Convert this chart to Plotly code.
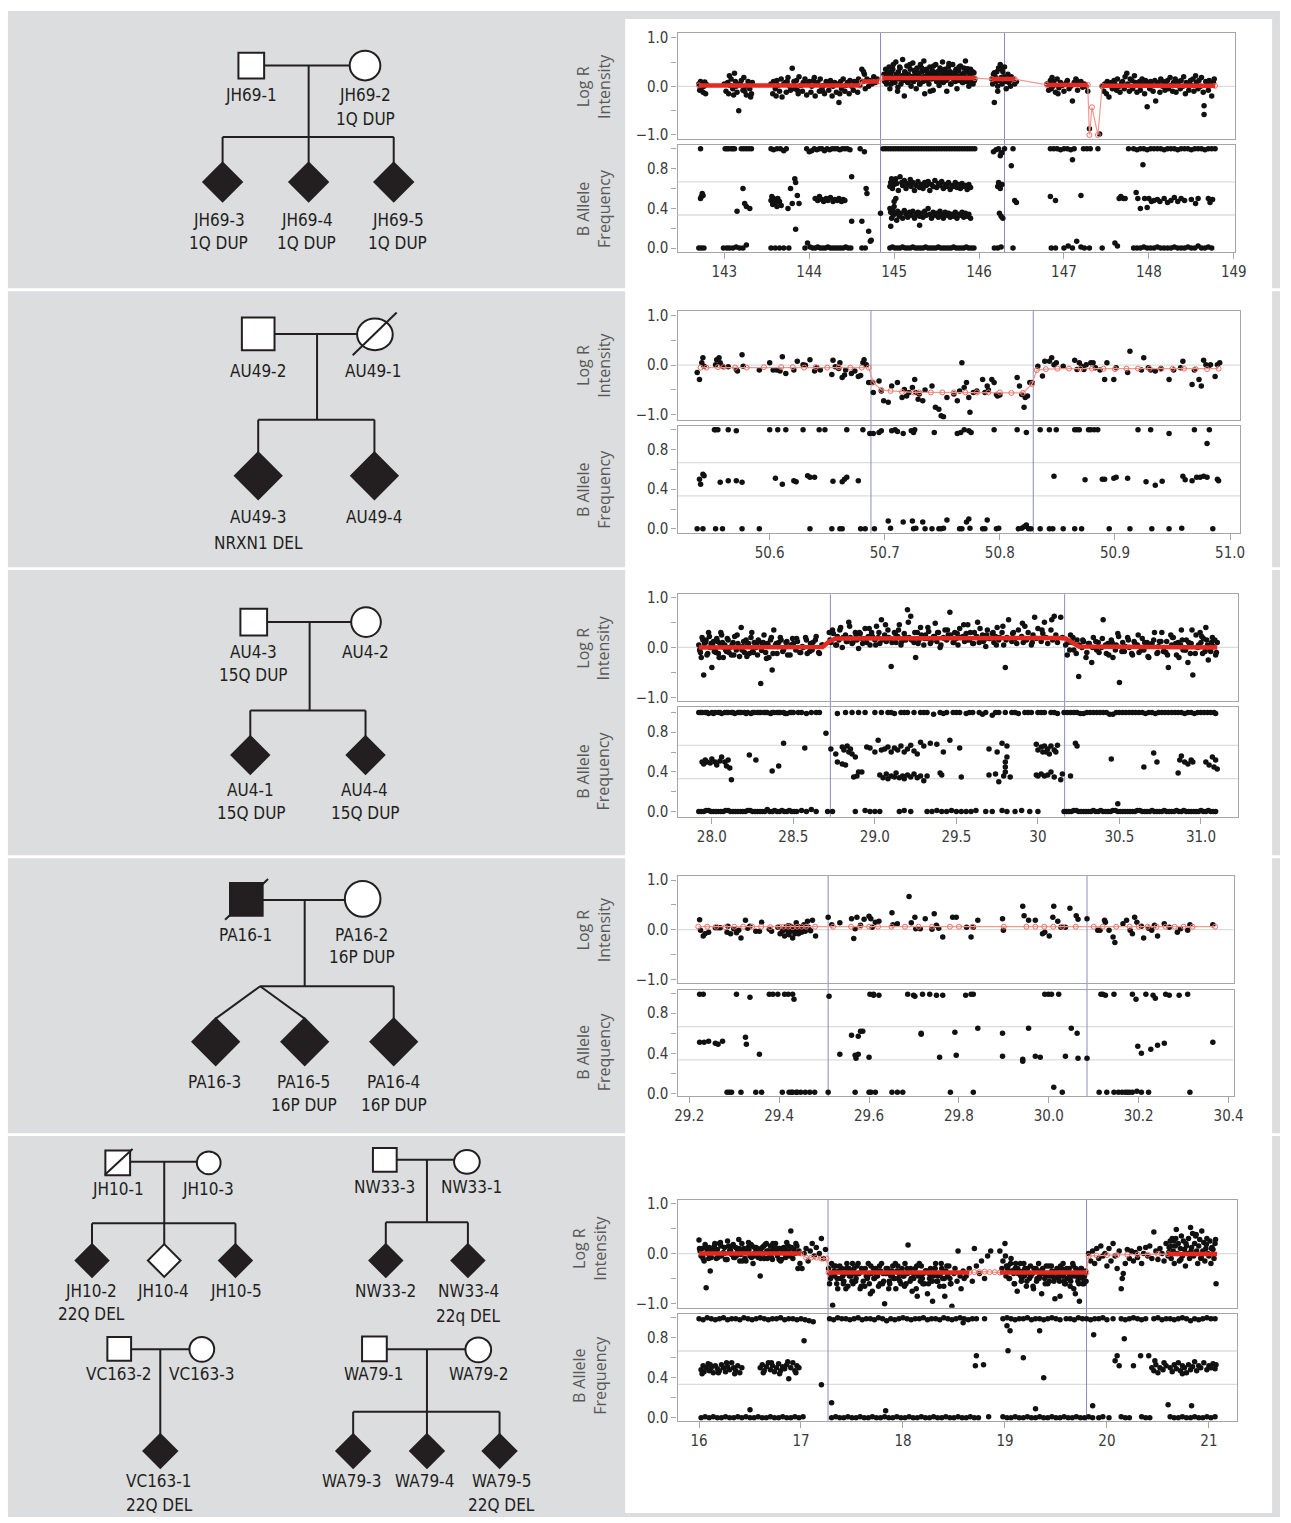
import plotly.graph_objects as go

W, H = 1291, 1523

# ======================= DATA =======================
# ---------- Panel 1 (chr1, Mb) ----------
p1_lrr_x = [
    142.70,142.71,142.72,142.73,142.74,142.75,142.76,142.77,142.78,142.79,142.72,142.76,
    143.00,143.02,143.04,143.05,143.07,143.08,143.10,143.12,143.13,143.15,143.17,143.18,143.20,143.22,
    143.23,143.25,143.26,143.28,143.30,143.31,143.33,143.06,143.11,143.19,143.24,143.29,143.32,143.14,
    143.55,143.57,143.58,143.60,143.62,143.63,143.65,143.67,143.68,143.70,
    143.72,143.73,143.75,143.77,143.78,143.80,143.82,143.83,143.85,143.87,
    143.88,143.90,143.92,143.93,143.95,143.97,143.98,144.00,144.02,144.03,
    144.05,144.07,144.08,144.10,144.12,144.13,144.15,144.17,144.18,144.20,
    144.22,144.23,144.25,144.27,144.28,144.30,144.32,144.33,144.35,144.37,
    144.38,144.40,144.42,144.43,144.45,144.47,144.48,144.50,144.52,144.53,
    144.55,144.57,144.58,144.60,143.61,143.74,143.86,143.96,144.06,144.16,
    144.26,144.36,144.46,144.56,
    144.62,144.63,144.65,144.66,144.68,144.70,144.72,144.74,144.76,144.78,144.80,144.64,
    144.88,144.89,144.90,144.91,144.92,144.93,144.94,144.95,144.96,144.97,
    144.98,144.99,145.00,145.01,145.02,145.03,145.04,145.05,145.06,145.07,
    145.08,145.09,145.10,145.11,145.12,145.13,145.14,145.15,145.16,145.17,
    145.18,145.19,145.20,145.21,145.22,145.23,145.24,145.25,145.26,145.27,
    145.28,145.29,145.30,145.31,145.32,145.33,145.34,145.35,145.36,145.37,
    145.38,145.39,145.40,145.41,145.42,145.43,145.44,145.45,145.46,145.47,
    145.48,145.49,145.50,145.51,145.52,145.53,145.54,145.55,145.56,145.57,
    145.58,145.59,145.60,145.61,145.62,145.63,145.64,145.65,145.66,145.67,
    145.68,145.69,145.70,145.71,145.72,145.73,145.74,145.75,145.76,145.77,
    145.78,145.79,145.80,145.81,145.82,145.83,145.84,145.85,145.86,145.87,
    145.88,145.89,145.90,145.91,145.92,145.93,145.94,145.95,
    144.905,144.925,144.945,144.965,144.985,145.005,145.025,145.045,145.065,145.085,
    145.105,145.125,145.145,145.165,145.185,145.205,145.225,145.245,145.265,145.285,
    145.305,145.325,145.345,145.365,145.385,145.405,145.425,145.445,145.465,145.485,
    145.505,145.525,145.545,145.565,145.585,145.605,145.625,145.645,145.665,145.685,
    145.705,145.725,145.745,145.765,145.785,145.805,145.825,145.845,145.865,145.885,
    145.905,145.925,145.945,
    146.15,146.16,146.17,146.18,146.19,146.20,146.21,146.22,146.23,146.24,
    146.25,146.26,146.27,146.28,146.29,146.30,146.31,146.32,146.33,146.34,
    146.35,146.36,146.37,146.38,146.40,146.42,146.44,146.18,146.22,146.26,
    146.80,146.82,146.84,146.85,146.87,146.88,146.90,146.92,146.94,146.96,
    146.98,147.00,147.02,147.04,147.06,147.08,147.10,147.12,147.14,147.16,
    147.18,147.20,147.22,147.24,147.26,147.28,146.86,146.93,147.03,147.15,
    147.30,147.42,
    147.45,147.47,147.48,147.50,147.51,147.53,147.54,147.56,147.57,147.59,
    147.60,147.62,147.63,147.65,147.66,147.68,147.69,147.71,147.72,147.74,
    147.75,147.77,147.78,147.80,147.81,147.83,147.84,147.86,147.87,147.89,
    147.90,147.92,147.93,147.95,147.96,147.98,147.99,148.01,148.02,148.04,
    148.05,148.07,148.08,148.10,148.11,148.13,148.14,148.16,148.17,148.19,
    148.20,148.22,148.23,148.25,148.26,148.28,148.29,148.31,148.32,148.34,
    148.35,148.37,148.38,148.40,148.41,148.43,148.44,148.46,148.47,148.49,
    148.50,148.52,148.53,148.55,148.56,148.58,148.59,148.61,148.62,148.64,
    148.65,148.67,148.68,148.70,148.71,148.73,148.74,148.76,148.77,148.65,
]
p1_lrr_y = [
    .05,-.08,.1,-.03,.07,-.12,.02,.09,-.15,.04,-.05,0,
    .05,-.1,.08,-.15,.02,.15,-.05,.27,.1,-.12,-.5,.05,.12,-.08,
    .18,0,-.18,.1,-.05,-.22,.08,.22,-.18,.03,-.1,.06,-.15,0,
    .05,-.15,.1,-.05,.12,.02,-.1,.15,-.22,.05,
    .08,-.12,.18,0,-.08,.37,.1,-.05,.12,-.15,
    .2,.02,-.1,.08,.15,-.18,.05,.1,-.12,0,
    .12,-.2,.05,.08,-.1,.15,-.05,.02,-.15,.1,
    .05,-.08,.12,-.2,0,.08,-.12,.05,-.33,.1,
    -.05,.15,-.1,.02,.08,-.15,.12,0,-.08,.1,
    .05,-.12,.15,.02,-.2,.1,-.08,.05,.18,-.1,
    .03,-.15,.08,.1,
    .35,.1,.25,-.05,.15,0,.12,.05,.2,.08,.15,.3,
    .25,.1,.35,.05,.2,.15,.4,-.05,.22,.3,
    .12,.45,.18,.08,.5,.25,-.1,.3,.15,.38,
    .05,.22,.55,.12,-.2,.28,.18,.42,.08,.25,
    .15,.35,0,.2,.48,.1,.3,.22,-.05,.38,
    .15,.25,.05,.45,.18,.3,.1,.52,-.15,.2,
    .35,.12,.28,.05,.4,.22,.15,.32,-.08,.25,
    .18,.45,.1,.3,.2,.02,.38,.15,.28,.5,
    .08,.22,.35,.12,-.1,.25,.4,.18,.3,.05,
    .2,.45,.15,.28,.1,.35,-.05,.22,.32,.12,
    .42,.18,.25,.08,.38,.2,.52,.1,.3,.15,
    0,.25,.35,.12,.2,.05,.28,.15,
    .1,.3,.2,.05,.35,.15,.25,-.02,.4,.18,
    .12,.3,.22,.08,.45,.2,.1,.33,.15,.28,
    .05,.38,.2,.12,.3,.18,-.1,.25,.42,.15,
    .22,.08,.35,.2,.1,.3,.15,.47,.05,.25,
    .18,.32,.12,.4,.2,.08,.28,.15,.36,.1,
    .22,.3,.12,
    .15,.05,.25,-.33,.2,.1,.3,0,.38,.12,
    .45,.18,.05,.3,.2,.4,.1,-.05,.15,.25,
    .08,.12,0,.2,.15,.05,.1,.28,-.1,.35,
    .05,-.08,.12,-.05,0,.1,-.12,.15,-.03,.08,
    .02,-.1,.05,.12,-.05,0,-.3,.08,.15,-.08,
    .05,.1,-.02,.05,0,-.1,.18,-.15,.08,.12,
    -.87,-.98,
    0,-.1,.05,-.15,.1,-.22,.02,.08,-.05,.12,
    .05,-.08,.15,0,-.12,.08,.1,-.05,.2,.27,
    .05,-.1,.15,.12,-.05,.22,.08,-.12,.02,.1,
    -.08,.15,.05,-.15,.12,-.42,.08,-.05,.1,.02,
    -.1,.12,-.3,.05,.08,-.12,.15,0,.1,-.08,
    .05,.12,-.05,.18,.02,-.1,.08,.15,-.12,.05,
    .1,-.05,.12,0,.2,-.15,.08,.05,-.08,.12,
    .02,.15,-.1,.22,.08,-.05,.12,0,.18,-.12,
    -.58,.1,.05,-.08,.12,.02,-.2,.08,.15,-.4,
]
p1_baf_top_x = [
    142.72,143.01,143.03,143.05,143.08,143.1,143.12,143.2,143.23,143.26,
    143.29,143.32,143.55,143.58,143.62,143.66,143.7,143.73,143.97,144.0,
    144.03,144.06,144.09,144.12,144.15,144.18,144.21,144.24,144.27,144.3,
    144.33,144.36,144.39,144.42,144.45,144.48,144.6,144.65,144.87,144.9,
    144.93,144.96,144.99,145.02,145.05,145.08,145.11,145.14,145.17,145.2,
    145.23,145.26,145.29,145.32,145.35,145.38,145.41,145.44,145.47,145.5,
    145.53,145.56,145.59,145.62,145.65,145.68,145.71,145.74,145.77,145.8,
    145.83,145.86,145.89,145.92,145.95,146.17,146.2,146.23,146.26,146.3,
    146.4,146.84,146.88,146.92,146.96,147.0,147.04,147.08,147.12,147.23,
    147.27,147.31,147.4,147.76,147.82,147.86,147.9,147.94,147.98,148.02,
    148.06,148.1,148.14,148.18,148.22,148.26,148.3,148.34,148.38,148.42,
    148.46,148.5,148.54,148.58,148.62,148.66,148.7,148.74,148.78,
]
p1_baf_top_y = [
    1,1,1,1,1,1,1,1,1,1,
    1,1,1,.99,1,1,.98,1,1,.97,
    .98,1,.99,1,1,.98,1,.99,1,1,
    1,.99,1,1,1,.99,1,.97,1,1,
    1,1,1,1,1,1,1,1,1,1,
    1,1,1,1,1,1,1,1,1,1,
    1,1,1,1,1,1,1,1,1,1,
    1,1,1,1,1,.97,.99,1,.96,1,
    1,1,1,1,.99,1,1,.99,1,1,
    1,1,1,1,1,.99,1,1,.99,1,
    1,1,1,.99,1,1,1,.99,1,1,
    1,.99,1,1,1,.99,1,1,1,
]
p1_baf_bot_x = [
    142.7,142.73,142.76,142.99,143.03,143.06,143.1,143.14,143.18,143.22,
    143.26,143.55,143.6,143.65,143.7,143.76,143.95,143.98,144.01,144.04,
    144.07,144.1,144.13,144.16,144.19,144.22,144.25,144.28,144.31,144.34,
    144.37,144.4,144.43,144.46,144.49,144.62,144.66,144.95,144.98,145.01,
    145.04,145.07,145.1,145.13,145.16,145.19,145.22,145.25,145.28,145.31,
    145.34,145.37,145.4,145.43,145.46,145.49,145.52,145.55,145.58,145.61,
    145.64,145.67,145.7,145.73,145.76,145.79,145.82,145.85,145.88,145.91,
    145.94,146.18,146.22,146.26,146.4,146.85,146.9,147.0,147.05,147.1,
    147.2,147.24,147.3,147.45,147.6,147.63,147.82,147.86,147.9,147.94,
    147.98,148.02,148.06,148.1,148.14,148.18,148.22,148.26,148.3,148.34,
    148.38,148.42,148.46,148.5,148.54,148.58,148.62,148.66,148.7,148.74,
]
p1_baf_bot_y = [
    0,0,0,0,0,0,0,.01,0,0,
    .03,0,0,0,0,0,0,.05,.01,0,
    0,.01,0,0,0,.01,0,0,0,0,
    0,0,.01,0,0,0,0,0,.01,0,
    0,0,.01,0,0,0,.01,0,0,0,
    0,.01,0,0,0,0,.01,0,0,0,
    0,0,.01,0,0,0,0,.01,0,0,
    0,0,0,.01,0,0,0,0,.02,0,
    .01,0,0,0,.05,.02,0,0,0,.01,
    0,0,0,.01,0,0,0,0,.01,0,
    0,0,.01,0,0,.02,0,0,.01,0,
]
p1_baf_mid = [
    (142.72,.5),(142.73,.52),(142.74,.55),(142.75,.53),(143.15,.37),(143.22,.6),(143.24,.45),(143.26,.42),(143.3,.4),
    (143.55,.48),(143.56,.52),(143.57,.44),(143.58,.5),(143.6,.46),(143.62,.42),(143.63,.5),(143.65,.47),(143.67,.43),
    (143.75,.4),(143.78,.6),(143.8,.45),(143.83,.7),(143.84,.66),(143.86,.53),(143.88,.45),(143.84,.19),
    (144.07,.5),(144.1,.48),(144.12,.52),(144.15,.49),(144.17,.47),(144.2,.5),(144.22,.48),(144.25,.51),(144.28,.47),
    (144.3,.49),(144.33,.48),(144.35,.5),(144.38,.47),(144.4,.49),(144.42,.48),(144.5,.72),(144.5,.27),(144.62,.27),
    (144.67,.6),(144.68,.55),(144.7,.17),(144.72,.07),(144.73,.08),(144.84,.35),
    (144.95,.62),(144.96,.66),(144.97,.7),(144.98,.6),(144.99,.68),(145.0,.64),(145.02,.7),(145.03,.65),(145.05,.58),
    (145.07,.72),(145.09,.66),(145.1,.63),(145.12,.68),(145.14,.6),(145.15,.65),(145.17,.64),(145.19,.69),(145.2,.62),
    (145.22,.66),(145.24,.58),(145.26,.63),(145.28,.67),(145.3,.61),(145.32,.64),(145.34,.6),(145.36,.66),(145.38,.63),
    (145.4,.67),(145.42,.58),(145.44,.64),(145.46,.62),(145.48,.68),(145.5,.61),(145.52,.65),(145.54,.63),(145.56,.67),
    (145.58,.6),(145.6,.64),(145.62,.62),(145.64,.66),(145.66,.59),(145.68,.63),(145.7,.62),(145.72,.66),(145.74,.61),
    (145.76,.64),(145.78,.6),(145.8,.65),(145.82,.62),(145.84,.63),(145.86,.59),(145.88,.64),(145.9,.61),
    (144.95,.4),(144.96,.36),(144.97,.3),(144.98,.38),(144.99,.33),(145.0,.42),(145.02,.35),(145.03,.28),(145.04,.37),
    (145.06,.32),(145.08,.35),(145.1,.3),(145.12,.38),(145.14,.34),(145.16,.31),(145.18,.36),(145.2,.33),(145.22,.37),
    (145.24,.3),(145.26,.34),(145.28,.36),(145.3,.32),(145.32,.35),(145.34,.31),(145.36,.37),(145.38,.33),(145.4,.4),
    (145.42,.34),(145.44,.3),(145.46,.36),(145.48,.33),(145.5,.35),(145.52,.31),(145.54,.37),(145.56,.34),(145.58,.3),
    (145.6,.36),(145.62,.33),(145.64,.35),(145.66,.31),(145.68,.34),(145.7,.32),(145.72,.36),(145.74,.3),(145.76,.34),
    (145.78,.33),(145.8,.36),(145.82,.31),(145.84,.35),(145.86,.32),(145.88,.34),(145.9,.3),
    (144.96,.22),(145.02,.5),(145.0,.47),(145.3,.23),
    (146.22,.62),(146.23,.66),(146.25,.6),(146.27,.64),(146.24,.35),(146.26,.32),(146.28,.3),(146.25,.93),(146.27,.96),
    (146.38,.83),(146.42,.48),(146.44,.46),
    (146.84,.52),(146.9,.48),(147.1,.89),(147.2,.53),(147.15,.07),(147.65,.5),(147.67,.52),(147.7,.5),(147.72,.5),
    (147.85,.56),(147.87,.5),(147.9,.4),(147.93,.84),(147.95,.5),(147.98,.41),(148.0,.5),(148.03,.47),(148.06,.48),
    (148.1,.49),(148.13,.47),(148.18,.5),(148.22,.46),(148.26,.48),(148.3,.51),(148.34,.47),(148.38,.5),(148.42,.48),
    (148.5,.49),(148.55,.45),(148.58,.5),(148.7,.5),(148.72,.46),(148.75,.49),
]
p1_seg_thick_x = [142.7,144.6,None,144.62,144.82,None,144.86,145.95,None,146.15,146.42,None,146.8,147.28,None,147.45,148.78]
p1_seg_thick_y = [0.02,0.02,None,0.1,0.1,None,0.17,0.17,None,0.15,0.15,None,0.03,0.03,None,0.01,0.01]
p1_seg_thin_x = [142.7,144.6,144.62,144.82,144.86,145.95,146.15,146.42,146.8,147.28,147.3,147.33,147.4,147.45,148.78]
p1_seg_thin_y = [0.02,0.02,0.1,0.1,0.17,0.17,0.15,0.15,0.03,0.03,-1.0,-0.43,-1.0,0.01,0.01]
p1_bounds = [144.84, 146.30]
p1_ticks = [143, 144, 145, 146, 147, 148, 149]
p1_ticktext = ['143', '144', '145', '146', '147', '148', '149']

# ---------- Panel 2 (chr2, NRXN1, Mb) ----------
p2_lrr = [
    (50.537,-.15),(50.539,-.29),(50.541,.05),(50.542,.15),(50.543,-.02),
    (50.553,.01),(50.554,.11),(50.556,.15),(50.557,.05),(50.559,-.02),
    (50.564,-.03),(50.571,-.09),(50.572,-.12),(50.576,.21),(50.577,-.02),
    (50.591,-.1),(50.6,.05),(50.603,-.1),(50.606,-.1),(50.609,-.12),(50.611,.17),(50.614,-.17),
    (50.621,-.1),(50.624,.08),(50.629,.01),(50.631,0),(50.635,.11),(50.639,-.12),(50.641,-.05),(50.644,-.1),
    (50.654,-.19),(50.655,.1),(50.657,-.03),(50.66,-.07),(50.661,.05),(50.663,-.25),(50.665,-.2),(50.666,-.1),
    (50.671,-.17),(50.674,-.12),(50.677,-.23),(50.679,-.21),(50.681,.05),(50.682,.11),(50.684,.01),
    (50.686,-.35),(50.689,-.35),(50.69,-.55),
    (50.695,-.32),(50.697,-.52),(50.699,-.72),(50.703,-.75),(50.706,-.42),(50.711,-.35),(50.715,-.65),(50.717,-.49),
    (50.719,-.62),(50.721,-.55),(50.724,-.45),(50.726,-.29),(50.727,-.55),(50.729,-.69),(50.733,-.72),(50.741,-.42),
    (50.744,-.85),(50.747,-.89),(50.749,-1.02),(50.751,-1.04),(50.754,-.65),(50.763,-.72),(50.765,-.52),(50.767,.05),
    (50.769,-.45),(50.771,-.35),(50.773,-.65),(50.774,-.95),(50.777,-.55),(50.785,-.29),(50.787,-.55),(50.789,-.42),
    (50.793,-.29),(50.795,-.35),(50.797,-.59),(50.798,-.62),(50.815,-.25),(50.817,-.42),(50.819,-.59),(50.821,-.85),
    (50.822,-.65),(50.824,-.62),(50.826,-.35),(50.828,-.35),
    (50.73,-.58),(50.735,-.5),(50.76,-.58),(50.78,-.52),(50.79,-.5),(50.8,-.6),
    (50.833,-.02),(50.837,-.22),(50.839,.08),(50.843,.08),(50.845,.15),(50.847,.01),(50.849,.05),(50.855,-.02),
    (50.865,.1),(50.867,-.09),(50.869,.05),(50.871,-.02),(50.873,-.09),(50.875,.01),(50.879,.05),(50.881,.05),
    (50.883,-.05),(50.887,-.1),(50.891,-.29),(50.893,.05),(50.899,-.29),(50.901,-.05),(50.911,-.15),(50.913,.28),
    (50.923,-.1),(50.925,.15),(50.929,-.05),(50.931,-.1),(50.935,-.12),(50.94,-.07),(50.947,-.29),(50.951,-.1),
    (50.957,-.05),(50.959,.08),(50.967,-.39),(50.969,-.1),(50.973,-.29),(50.975,-.42),(50.977,.1),(50.979,.01),
    (50.981,-.02),(50.983,.01),(50.987,-.23),(50.989,.01),(50.991,.05),
]
p2_baf = [
    (50.552,1),(50.553,1),(50.555,1),(50.564,1),(50.571,.99),(50.6,1),(50.607,1),(50.614,1),(50.629,1),(50.643,1),
    (50.648,1),(50.667,1),(50.681,1),(50.687,.96),(50.69,.96),(50.695,.97),(50.697,.99),(50.706,.99),(50.709,1),
    (50.711,.98),(50.716,.96),(50.723,.99),(50.725,.97),(50.726,1),(50.743,.97),(50.763,.96),(50.766,.97),(50.769,1),
    (50.773,.99),(50.775,.97),(50.795,1),(50.815,1),(50.823,.97),(50.835,1),(50.843,1),(50.849,1),(50.865,1),
    (50.867,1),(50.869,1),(50.877,1),(50.879,1),(50.882,1),(50.885,1),(50.92,1),(50.931,1),(50.947,.96),(50.969,1),
    (50.982,1),(50.98,.86),
    (50.539,.5),(50.54,.45),(50.542,.55),(50.543,.535),(50.557,.47),(50.564,.485),(50.571,.485),(50.576,.47),
    (50.605,.51),(50.611,.45),(50.621,.485),(50.623,.475),(50.633,.535),(50.635,.52),(50.639,.52),(50.655,.48),
    (50.663,.475),(50.665,.5),(50.667,.52),(50.677,.485),(50.847,.53),(50.874,.495),(50.889,.5),(50.891,.5),
    (50.899,.51),(50.901,.52),(50.911,.51),(50.927,.475),(50.935,.44),(50.941,.48),(50.959,.53),(50.961,.495),
    (50.967,.485),(50.971,.52),(50.974,.52),(50.977,.53),(50.98,.52),(50.989,.5),(50.99,.485),
    (50.537,0),(50.542,0),(50.553,0),(50.559,0),(50.576,0),(50.591,0),(50.635,0),(50.654,0),(50.661,0),(50.663,0),
    (50.679,0),(50.683,0),(50.691,0),(50.703,.08),(50.705,.005),(50.716,.07),(50.724,.08),(50.725,0),(50.727,.005),
    (50.733,.07),(50.735,0),(50.741,0),(50.747,0),(50.749,0),(50.751,.005),(50.754,.09),(50.765,0),(50.767,0),
    (50.771,.07),(50.773,.1),(50.774,.005),(50.785,0),(50.787,0),(50.789,.09),(50.797,0),(50.799,.005),(50.816,0),
    (50.819,.005),(50.821,.02),(50.823,.04),(50.825,0),(50.827,0),(50.835,0),(50.843,0),(50.846,0),(50.855,0),
    (50.865,0),(50.871,0),(50.895,0),(50.913,0),(50.932,0),(50.947,0),(50.958,.005),(50.985,0),
]
p2_seg_x = [50.54,50.545,50.555,50.56,50.57,50.58,50.595,50.61,50.62,50.63,
            50.64,50.65,50.66,50.67,50.68,50.686,50.69,50.697,50.705,50.715,
            50.725,50.73,50.74,50.75,50.76,50.77,50.78,50.79,50.8,50.81,
            50.82,50.828,50.832,50.84,50.85,50.86,50.87,50.88,50.89,50.9,
            50.91,50.92,50.93,50.94,50.95,50.96,50.97,50.98,50.99]
p2_seg_y = [-.05,-.05,-.04,-.04,-.05,-.05,-.04,-.04,-.04,-.05,
            -.04,-.05,-.04,-.05,-.05,-.05,-.35,-.5,-.52,-.54,
            -.55,-.55,-.55,-.55,-.55,-.55,-.55,-.55,-.55,-.56,
            -.56,-.38,-.1,-.08,-.07,-.07,-.07,-.07,-.07,-.08,
            -.07,-.07,-.07,-.08,-.07,-.07,-.08,-.08,-.07]
p2_bounds = [50.688, 50.829]
p2_ticks = [50.6, 50.7, 50.8, 50.9, 51.0]
p2_ticktext = ['50.6', '50.7', '50.8', '50.9', '51.0']

# ---------- Panel 3 (chr15, Mb) ----------
p3_lrr_x = [
    27.92,27.93,27.94,27.95,27.96,27.97,27.98,27.99,28.0,28.01,
    28.02,28.03,28.04,28.05,28.06,28.07,28.08,28.09,28.1,28.11,
    28.12,28.13,28.14,28.15,28.16,28.17,28.18,28.19,28.2,28.21,
    28.22,28.23,28.24,28.25,28.26,28.27,28.28,28.29,28.3,28.31,
    28.32,28.33,28.34,28.35,28.36,28.37,28.38,28.39,28.4,28.41,
    28.42,28.44,28.46,28.48,28.5,28.52,28.54,28.56,28.58,28.6,
    28.62,28.64,28.66,28.68,27.935,27.965,27.995,28.025,28.055,28.085,
    28.72,28.73,28.74,28.76,28.77,28.78,28.79,28.8,28.82,28.83,
    28.84,28.85,28.86,28.88,28.89,28.9,28.91,28.92,28.94,28.95,
    28.96,28.97,28.98,29.0,29.01,29.02,29.03,29.04,29.06,29.07,
    29.08,29.09,29.1,29.12,29.13,29.14,29.15,29.16,29.18,29.19,
    29.2,29.21,29.22,29.24,29.25,29.26,29.27,29.28,29.3,29.31,
    29.32,29.33,29.34,29.36,29.37,29.38,29.39,29.4,29.42,29.43,
    29.44,29.45,29.46,29.48,29.49,29.5,29.51,29.52,29.54,29.55,
    29.56,29.57,29.58,29.6,29.61,29.62,29.63,29.64,29.66,29.67,
    29.68,29.69,29.7,29.72,29.73,29.74,29.75,29.76,29.78,29.79,
    29.8,29.81,29.82,29.84,29.85,29.86,29.87,29.88,29.9,29.91,
    29.92,29.93,29.94,29.96,29.97,29.98,29.99,30.0,30.02,30.03,
    30.04,30.05,30.06,30.08,30.09,30.1,30.11,30.12,30.14,30.15,
    30.17,30.18,30.2,30.21,30.22,30.24,30.25,30.27,30.28,30.3,
    30.31,30.33,30.34,30.36,30.37,30.39,30.4,30.42,30.43,30.45,
    30.46,30.48,30.49,30.5,30.52,30.53,30.55,30.56,30.58,30.59,
    30.61,30.62,30.64,30.65,30.67,30.68,30.7,30.71,30.73,30.74,
    30.76,30.77,30.79,30.8,30.82,30.83,30.85,30.86,30.88,30.89,
    30.91,30.92,30.94,30.95,30.97,30.98,31.0,31.01,31.03,31.04,
    31.06,31.07,31.09,31.1,30.745,30.785,30.815,30.875,30.935,30.995,
    31.055,31.085,
]
p3_lrr_y = [
    .05,-.1,.2,-.55,.1,-.15,.3,0,-.4,.12,
    -.05,.18,-.12,.08,.25,-.2,.05,-.08,.15,0,
    -.15,.1,.22,-.05,.08,-.18,.4,.02,-.1,.15,
    .05,-.12,.2,-.08,.1,0,-.15,.12,-.72,.05,
    .25,-.1,.08,-.2,.15,-.45,.35,.05,-.12,.1,
    .2,-.05,.12,-.15,.08,.18,-.1,0,.15,-.08,
    .1,.22,-.12,.05,-.2,.15,.08,-.1,.3,-.05,
    .3,.1,.35,.05,.22,.15,.4,0,.25,.12,
    .5,.2,.08,.3,.15,-.02,.28,.18,.38,.1,
    .22,.05,.3,.15,.42,.2,.08,.55,.25,.12,
    .35,.18,-.38,.3,.1,.22,.45,.05,.28,.15,
    .75,.2,.62,.1,-.2,.3,.15,.4,.05,.25,
    .18,.32,.08,.22,.48,.12,.3,0,.2,.35,
    .15,.25,.7,.1,.3,.18,.05,.38,.22,.12,
    .28,.45,.15,.08,.3,.2,.5,.1,.25,.15,
    .02,.35,.18,.28,.1,.22,.4,.15,.3,.05,
    -.4,.2,.55,.12,.3,.18,.08,.35,.22,.1,
    .42,.15,.3,.05,.25,.6,.18,.38,.12,.28,
    .5,.2,.08,.35,.15,.62,.25,.1,.6,.2,
    .05,-.15,.25,.1,-.05,.15,-.58,0,.12,-.1,
    .08,-.3,.2,-.05,.1,0,.55,-.12,.08,.15,
    -.2,.05,.28,-.7,.1,-.08,.2,0,-.15,.12,
    .05,-.1,.18,-.05,.1,-.2,.08,.15,-.12,.02,
    .3,-.08,.12,-.4,.05,.2,-.15,.1,.35,-.05,
    .15,-.3,.08,-.55,.25,0,.1,-.12,.4,.05,
    -.08,.2,-.15,.1,.12,-.1,.25,.05,-.12,.3,
    -.05,.15,
]
p3_lrr_x2 = [
    27.925,27.945,27.955,27.975,27.985,28.005,28.015,28.035,28.045,28.065,
    28.075,28.095,28.105,28.125,28.135,28.155,28.165,28.185,28.195,28.215,
    28.225,28.245,28.255,28.275,28.285,28.305,28.315,28.335,28.345,28.365,
    28.375,28.395,28.405,28.425,28.435,28.455,28.465,28.485,28.495,28.515,
    28.525,28.545,28.555,28.575,28.585,28.605,28.615,28.635,28.655,28.675,
    28.725,28.745,28.765,28.785,28.805,28.825,28.845,28.865,28.885,28.905,
    28.925,28.945,28.965,28.985,29.005,29.025,29.045,29.065,29.085,29.105,
    29.125,29.145,29.165,29.185,29.205,29.225,29.245,29.265,29.285,29.305,
    29.325,29.345,29.365,29.385,29.405,29.425,29.445,29.465,29.485,29.505,
    29.525,29.545,29.565,29.585,29.605,29.625,29.645,29.665,29.685,29.705,
    29.725,29.745,29.765,29.785,29.805,29.845,29.905,29.965,30.025,30.085,
    30.185,30.195,30.215,30.235,30.255,30.275,30.295,30.315,30.335,30.355,
    30.375,30.395,30.415,30.435,30.455,30.475,30.495,30.515,30.535,30.555,
    30.575,30.595,30.615,30.635,30.655,30.675,30.695,30.715,30.735,30.755,
    30.775,30.795,30.825,30.845,30.865,30.885,30.905,30.925,30.945,30.965,
    30.985,31.005,31.025,31.035,31.045,31.065,31.075,31.095,31.015,30.905,
]
p3_lrr_y2 = [
    -.05,.15,.08,-.12,.22,.05,-.08,.12,-.2,.1,
    0,.18,-.1,.06,-.15,.25,.02,-.05,.12,-.18,
    .08,.3,-.1,.04,.15,-.06,.1,-.22,.05,.2,
    -.12,.08,.02,.15,-.08,.1,-.15,.05,.18,-.05,
    .12,-.1,.02,.2,-.12,.08,-.05,.15,-.1,.05,
    .15,.28,.05,.35,.2,.12,.42,.1,.25,.3,
    .08,.18,.38,.22,.05,.3,.15,.45,.2,.1,
    .28,.35,.12,.2,.5,.15,.3,.08,.25,.18,
    .4,.12,.22,.3,.05,.18,.35,.25,.1,.28,
    .2,.45,.15,.3,.08,.22,.38,.12,.25,.18,
    .3,.05,.2,.42,.15,.28,.48,.1,.35,.55,
    .1,-.05,.2,-.12,.05,.15,-.2,.08,0,.12,
    -.1,.18,.05,-.15,.1,-.05,.22,-.08,.02,.15,
    -.12,.08,.25,-.05,.1,-.18,.05,.3,-.1,.12,
    0,-.15,.2,.08,-.2,.15,-.05,.1,.35,-.12,
    .05,.22,-.08,.15,-.25,.1,.02,-.1,.18,-.05,
]
p3_baf_top_x = [
    27.92,27.94,27.96,27.98,28.0,28.02,28.04,28.06,28.08,28.1,
    28.12,28.14,28.16,28.18,28.2,28.22,28.24,28.26,28.28,28.3,
    28.32,28.34,28.36,28.38,28.4,28.42,28.44,28.46,28.48,28.5,
    28.55,28.58,28.61,28.64,28.66,28.77,28.82,28.86,28.9,28.94,
    29.0,29.04,29.08,29.12,29.16,29.2,29.24,29.28,29.32,29.36,
    29.4,29.44,29.48,29.52,29.56,29.6,29.64,29.68,29.72,29.76,
    29.8,29.84,29.88,29.92,29.96,30.0,30.04,30.08,30.12,30.16,
    30.2,30.24,30.28,30.32,30.36,30.4,30.44,30.48,30.52,30.56,
    30.6,30.64,30.68,30.72,30.76,30.8,30.84,30.88,30.92,30.96,
    31.0,31.04,31.08,
    27.93,27.97,28.01,28.05,28.09,28.13,28.17,28.21,28.25,28.29,28.33,28.37,28.41,28.45,28.49,28.53,
    30.18,30.22,30.26,30.3,30.34,30.38,30.42,30.46,30.5,30.54,30.58,30.62,30.66,30.7,30.74,30.78,
    30.82,30.86,30.9,30.94,30.98,31.02,31.06,31.09,
    29.1,29.18,29.3,29.42,29.5,29.58,29.66,29.74,29.86,29.94,30.02,30.1,
]
p3_baf_top_y = [
    1,1,1,.99,1,1,1,.99,1,1,
    1,.99,1,1,1,1,.99,1,1,1,
    1,1,.99,1,1,1,1,.99,1,1,
    1,.99,1,1,1,.99,1,1,1,1,
    1,1,1,.99,1,1,1,1,1,.98,
    1,1,1,1,.99,1,1,1,.97,1,
    1,1,.99,1,1,1,1,1,.99,1,
    1,1,.99,1,1,1,.98,1,1,1,
    1,1,1,.99,1,1,1,1,1,.99,
    1,1,1,
    1,1,.99,1,1,1,1,.99,1,1,1,1,1,.99,1,1,
    1,1,.99,1,1,1,1,.98,1,1,1,1,.99,1,1,1,
    1,1,.99,1,1,1,1,.99,
    1,1,1,.99,1,1,.98,1,1,1,1,1,
]
p3_baf_bot_x = [
    27.92,27.95,27.98,28.01,28.04,28.07,28.1,28.13,28.16,28.19,
    28.22,28.25,28.28,28.31,28.34,28.37,28.4,28.43,28.46,28.49,
    28.52,28.55,28.58,28.61,28.64,28.71,28.74,28.88,28.94,28.97,
    29.0,29.03,29.15,29.18,29.22,29.32,29.35,29.38,29.41,29.44,
    29.47,29.5,29.53,29.56,29.59,29.62,29.68,29.72,29.78,29.81,
    29.86,29.9,29.95,30.0,30.16,30.19,30.22,30.25,30.28,30.31,
    30.34,30.37,30.4,30.43,30.46,30.49,30.52,30.55,30.58,30.61,
    30.64,30.67,30.7,30.73,30.76,30.79,30.82,30.85,30.88,30.91,
    30.94,30.97,31.0,31.03,31.06,31.09,
    27.935,27.965,27.995,28.025,28.055,28.085,28.115,28.145,28.175,28.205,
    28.235,28.265,28.295,28.325,28.355,28.385,28.415,28.445,28.475,28.505,
    30.175,30.205,30.235,30.265,30.295,30.325,30.355,30.385,30.415,30.445,
    30.475,30.505,30.535,30.565,30.595,30.625,30.655,30.685,30.715,30.745,
    30.775,30.805,30.835,30.865,30.895,30.925,30.955,30.985,31.015,31.045,31.075,
]
p3_baf_bot_y = [
    0,0,.01,0,0,0,.01,0,0,0,
    .01,0,0,0,.02,0,0,.01,0,0,
    0,.01,0,.02,0,0,0,0,.01,0,
    0,0,0,.01,0,0,0,.01,0,0,
    .01,0,0,0,0,.01,0,0,.01,0,
    0,.01,0,0,0,0,.01,0,0,0,
    .01,0,0,0,.01,0,0,0,0,.01,
    0,0,.01,0,0,0,0,.01,0,0,
    0,0,.01,0,0,0,
    0,.01,0,0,0,.01,0,0,0,0,
    .01,0,0,0,0,.01,0,0,.01,0,
    0,0,.01,0,0,0,0,.01,0,0,
    .01,0,0,0,0,.01,0,0,0,0,
    .01,0,0,0,.01,0,0,0,0,.01,0,
]
p3_baf_mid = [
    (27.94,.5),(27.95,.48),(27.96,.52),(27.97,.5),(27.99,.49),(28.0,.53),(28.02,.5),(28.03,.47),(28.05,.51),
    (28.06,.55),(28.08,.5),(28.09,.46),(28.1,.52),(28.11,.44),(28.12,.32),(28.23,.57),(28.27,.52),(28.37,.41),
    (28.41,.46),(28.44,.69),(28.57,.64),
    (28.7,.79),(28.73,.63),(28.76,.58),(28.77,.5),(28.8,.48),(28.82,.47),(28.8,.65),(28.81,.62),(28.83,.66),
    (28.84,.6),(28.85,.63),(28.86,.58),(28.88,.55),(28.87,.35),(28.89,.36),(28.9,.4),(28.92,.4),(28.95,.65),
    (28.97,.64),(29.0,.6),(29.02,.72),(29.04,.62),(29.06,.63),(29.08,.65),(29.1,.6),(29.12,.64),(29.14,.62),
    (29.16,.66),(29.18,.6),(29.2,.63),(29.22,.67),(29.24,.61),(29.26,.58),(29.28,.7),(29.3,.66),(29.34,.69),
    (29.38,.68),(29.42,.6),(29.46,.72),(29.52,.64),(29.7,.63),(29.75,.6),(29.78,.69),(29.81,.66),
    (29.03,.37),(29.05,.34),(29.07,.38),(29.08,.33),(29.1,.36),(29.12,.35),(29.13,.39),(29.15,.34),(29.17,.36),
    (29.18,.33),(29.2,.37),(29.22,.35),(29.24,.38),(29.26,.34),(29.28,.36),(29.3,.31),(29.32,.36),(29.4,.39),
    (29.41,.37),(29.53,.35),(29.7,.37),(29.74,.38),(29.76,.3),(29.79,.36),(29.8,.45),(29.8,.5),(29.81,.55),
    (29.8,.4),(29.83,.35),
    (29.99,.68),(30.0,.62),(30.02,.65),(30.03,.6),(30.04,.66),(30.05,.6),(30.06,.63),(30.07,.58),(30.08,.66),
    (30.1,.62),(30.11,.6),(30.12,.67),(29.99,.37),(30.0,.36),(30.02,.38),(30.04,.36),(30.06,.37),(30.08,.4),
    (30.1,.35),(30.14,.32),(30.15,.38),(30.2,.36),(30.23,.69),(30.24,.66),
    (30.45,.53),(30.49,.08),(30.65,.45),(30.71,.59),(30.73,.5),(30.86,.39),(30.87,.52),(30.88,.56),(30.9,.5),
    (30.92,.48),(30.94,.52),(30.95,.5),(31.03,.5),(31.05,.47),(31.07,.55),(31.08,.45),(31.09,.52),(31.1,.43),
]
p3_seg_x = [27.92, 28.68, 28.72, 28.76, 30.12, 30.17, 30.25, 31.1]
p3_seg_y = [0.0, 0.01, 0.12, 0.18, 0.19, 0.18, 0.02, 0.0]
p3_bounds = [28.727, 30.164]
p3_ticks = [28.0, 28.5, 29.0, 29.5, 30.0, 30.5, 31.0]
p3_ticktext = ['28.0', '28.5', '29.0', '29.5', '30', '30.5', '31.0']

# ---------- Panel 4 (chr16, Mb) ----------
p4_lrr = [
    (29.223,.2),(29.225,-.01),(29.231,-.13),(29.235,-.08),(29.243,-.05),(29.258,.04),(29.264,.04),(29.269,.04),
    (29.284,-.05),(29.286,.07),(29.292,-.08),(29.299,.02),(29.305,-.06),(29.31,-.01),(29.315,-.17),(29.325,.19),
    (29.33,.03),(29.335,.07),(29.348,-.03),(29.356,-.03),(29.361,.15),(29.378,.01),(29.383,-.03),(29.397,.05),
    (29.402,-.08),(29.407,-.03),(29.412,-.13),(29.417,.02),(29.42,-.05),(29.422,-.1),(29.425,.07),(29.427,-.01),
    (29.43,-.17),(29.433,-.01),(29.436,.05),(29.438,.14),(29.443,-.08),(29.448,-.03),(29.453,.02),(29.458,-.03),
    (29.463,.17),(29.474,.19),(29.481,-.13),(29.509,.25),(29.517,.1),(29.535,.14),(29.561,.22),(29.566,-.18),
    (29.569,.02),(29.573,.25),(29.581,.09),(29.589,.21),(29.6,.27),(29.604,.22),(29.607,.05),(29.614,.15),
    (29.622,.17),(29.651,.34),(29.653,.1),(29.663,.12),(29.689,.67),(29.694,.14),(29.702,.25),(29.704,.02),
    (29.714,.02),(29.725,.22),(29.74,.01),(29.745,.32),(29.75,.09),(29.755,.03),(29.764,-.15),(29.786,.25),
    (29.794,.25),(29.817,.05),(29.827,-.15),(29.832,.05),(29.842,.19),(29.897,.22),(29.899,-.01),(29.942,.47),
    (29.945,.28),(29.955,.19),(29.97,.19),(29.986,-.08),(29.991,-.05),(30.001,-.13),(30.009,.25),(30.011,.47),
    (30.02,.17),(30.027,.05),(30.037,.05),(30.047,.43),(30.061,.28),(30.065,.21),(30.085,.22),(30.109,-.01),
    (30.114,-.01),(30.124,.19),(30.126,.15),(30.134,-.01),(30.143,-.15),(30.147,-.26),(30.165,.12),(30.173,.19),
    (30.181,-.01),(30.186,-.08),(30.191,.25),(30.196,.15),(30.206,.07),(30.211,-.17),(30.222,.03),(30.229,-.01),
    (30.235,.09),(30.242,-.13),(30.257,.12),(30.268,.05),(30.286,-.05),(30.293,.02),(30.309,-.01),(30.314,.1),
    (30.365,.1),
    (29.41,0),(29.415,.05),(29.42,.08),(29.425,-.03),(29.43,.04),(29.435,-.08),(29.44,0),(29.445,.06),
    (29.45,-.05),(29.455,.1),(29.465,.05),(29.47,-.02),
]
p4_baf = [
    (29.223,.99),(29.231,.99),(29.305,.99),(29.335,.96),(29.378,.99),(29.386,.99),(29.397,.99),(29.412,.99),
    (29.43,.99),(29.433,.94),(29.511,.97),(29.602,.99),(29.61,.99),(29.622,.98),(29.686,.99),(29.699,.98),
    (29.702,.97),(29.719,.99),(29.735,.99),(29.75,.98),(29.764,.98),(29.815,.98),(29.827,.99),(29.832,.99),
    (29.991,.99),(29.999,.99),(30.006,.99),(30.022,.99),(30.116,.99),(30.126,.98),(30.145,.99),(30.186,.99),
    (30.194,.94),(30.216,.99),(30.232,.98),(30.237,.95),(30.268,.98),(30.29,.98),(30.309,.99),(29.42,.99),
    (29.61,.98),(30.12,.99),(30.26,.99),
    (29.223,.51),(29.233,.51),(29.243,.52),(29.258,.5),(29.264,.49),(29.274,.52),(29.325,.56),(29.327,.49),
    (29.356,.39),(29.561,.58),(29.576,.57),(29.581,.62),(29.586,.62),(29.535,.39),(29.569,.38),(29.571,.35),
    (29.576,.39),(29.6,.36),(29.716,.59),(29.716,.6),(29.757,.36),(29.791,.61),(29.794,.38),(29.842,.65),
    (29.897,.6),(29.897,.37),(29.942,.34),(29.942,.32),(29.955,.65),(29.97,.37),(29.981,.36),(30.037,.37),
    (30.05,.65),(30.063,.6),(30.065,.35),(30.085,.35),(30.198,.47),(30.206,.4),(30.227,.44),(30.242,.48),
    (30.257,.5),(30.365,.51),
    (29.284,.01),(29.289,.01),(29.294,.01),(29.315,.01),(29.348,.01),(29.361,.01),(29.407,.01),(29.422,.01),
    (29.427,.01),(29.438,.01),(29.448,.01),(29.458,.01),(29.468,.01),(29.479,.01),(29.509,.01),(29.569,.01),
    (29.6,.01),(29.604,.01),(29.614,.01),(29.651,.01),(29.663,.01),(29.675,.01),(29.781,.01),(29.832,.01),
    (30.011,.06),(30.03,.01),(30.112,.01),(30.129,.01),(30.145,.01),(30.155,.01),(30.163,.01),(30.17,.01),
    (30.175,.01),(30.186,.01),(30.196,.02),(30.206,.01),(30.222,.01),(30.314,.01),(29.43,.01),(29.44,.01),
    (30.18,.01),
]
p4_seg_x = [29.22,29.24,29.26,29.28,29.3,29.32,29.34,29.36,29.38,29.4,
            29.41,29.42,29.43,29.44,29.45,29.46,29.48,29.52,29.56,29.58,
            29.6,29.62,29.65,29.68,29.71,29.74,29.78,29.8,29.83,29.9,
            29.95,29.97,29.99,30.01,30.03,30.06,30.1,30.12,30.15,30.18,
            30.2,30.22,30.24,30.26,30.28,30.3,30.32,30.37]
p4_seg_y = [.06,.06,.06,.05,.06,.06,.06,.06,.05,.06,
            .06,.06,.05,.06,.06,.06,.06,.06,.06,.06,
            .06,.06,.06,.06,.06,.06,.06,.06,.06,.06,
            .06,.06,.06,.06,.06,.06,.06,.06,.06,.06,
            .06,.06,.06,.06,.06,.06,.06,.06]
p4_bounds = [29.509, 30.085]
p4_ticks = [29.2, 29.4, 29.6, 29.8, 30.0, 30.2, 30.4]
p4_ticktext = ['29.2', '29.4', '29.6', '29.8', '30.0', '30.2', '30.4']

# ---------- Panel 5 (chr22, Mb) ----------
p5_lrr_x = [
    16.00,16.02,16.03,16.05,16.07,16.08,16.10,16.12,16.13,16.15,
    16.17,16.18,16.20,16.22,16.23,16.25,16.27,16.28,16.30,16.32,
    16.33,16.35,16.37,16.38,16.40,16.42,16.43,16.45,16.47,16.48,
    16.50,16.52,16.53,16.55,16.57,16.58,16.60,16.62,16.63,16.65,
    16.67,16.68,16.70,16.72,16.73,16.75,16.77,16.78,16.80,16.82,
    16.83,16.85,16.87,16.88,16.90,16.92,16.93,16.95,16.97,16.98,
    16.01,16.04,16.06,16.09,16.11,16.14,16.16,16.19,16.21,16.24,
    16.26,16.29,16.31,16.34,16.36,16.39,16.41,16.44,16.46,16.49,
    16.51,16.54,16.56,16.59,16.61,16.64,16.66,16.69,16.71,16.74,
    16.76,16.79,16.81,16.84,16.86,16.89,16.91,16.94,16.96,16.99,
    17.01,17.03,17.05,17.07,17.09,17.11,17.13,17.15,17.18,17.2,17.22,17.24,
    17.27,17.28,17.3,17.31,17.33,17.34,17.36,17.37,17.39,17.4,
    17.42,17.43,17.45,17.46,17.48,17.49,17.51,17.52,17.54,17.55,
    17.57,17.58,17.6,17.61,17.63,17.64,17.66,17.67,17.69,17.7,
    17.72,17.73,17.75,17.76,17.78,17.79,17.81,17.82,17.84,17.85,
    17.87,17.88,17.9,17.91,17.93,17.94,17.96,17.97,17.99,18.0,
    18.02,18.03,18.05,18.06,18.08,18.09,18.11,18.12,18.14,18.15,
    18.17,18.18,18.2,18.21,18.23,18.24,18.26,18.27,18.29,18.3,
    18.32,18.33,18.35,18.36,18.38,18.39,18.41,18.42,18.44,18.45,
    18.47,18.48,18.5,18.51,18.53,18.54,18.56,18.57,18.59,18.6,
    17.285,17.32,17.355,17.385,17.415,17.445,17.475,17.505,17.535,17.565,
    17.595,17.625,17.655,17.685,17.715,17.745,17.775,17.805,17.835,17.865,
    17.895,17.925,17.955,17.985,18.015,18.045,18.075,18.105,18.135,18.165,
    18.195,18.225,18.255,18.285,18.315,18.345,18.375,18.405,18.435,18.465,
    18.62,18.65,18.68,18.7,18.72,18.75,18.77,18.8,18.83,18.86,
    18.95,18.97,18.98,19.0,19.01,19.03,19.04,19.06,19.07,19.09,
    19.1,19.12,19.13,19.15,19.16,19.18,19.19,19.21,19.22,19.24,
    19.25,19.27,19.28,19.3,19.31,19.33,19.34,19.36,19.37,19.39,
    19.4,19.42,19.43,19.45,19.46,19.48,19.49,19.51,19.52,19.54,
    19.55,19.57,19.58,19.6,19.61,19.63,19.64,19.66,19.67,19.69,
    19.7,19.72,19.73,19.75,19.76,19.78,19.79,19.005,19.105,19.205,
    19.505,19.525,19.545,19.565,19.585,19.605,19.625,19.645,19.665,19.685,
    19.705,19.725,19.745,19.765,19.785,19.795,19.255,19.285,19.315,19.345,
    19.375,19.405,19.435,19.465,19.025,19.055,19.085,19.135,19.165,19.195,
    19.82,19.84,19.86,19.88,19.9,19.92,19.94,19.96,19.98,20.0,
    20.02,20.04,20.06,20.08,20.1,20.12,20.14,20.15,20.16,20.18,
    20.2,20.22,20.24,20.26,20.28,20.3,20.32,20.34,20.36,20.38,
    20.4,20.42,20.44,20.46,20.48,20.5,20.52,20.54,20.56,20.58,
    20.6,20.61,20.62,20.63,20.64,20.65,20.66,20.67,20.68,20.69,
    20.7,20.71,20.72,20.73,20.74,20.75,20.76,20.77,20.78,20.79,
    20.8,20.81,20.82,20.83,20.84,20.85,20.86,20.87,20.88,20.89,
    20.9,20.91,20.92,20.93,20.94,20.95,20.96,20.97,20.98,20.99,
    21.0,21.01,21.02,21.03,21.04,21.05,21.06,21.07,20.625,20.675,
    20.725,20.775,20.825,20.875,20.925,20.975,21.025,21.065,20.605,20.655,
]
p5_lrr_y = [
    .27,-.05,.1,-.15,-.68,.05,.12,-.08,.02,.15,
    -.1,.08,.2,-.05,0,.12,-.12,.25,.05,-.02,
    .15,-.08,.1,.02,-.15,.2,.05,-.1,.08,.12,
    -.05,.15,-.2,.02,.1,-.08,-.45,.12,0,.18,
    -.1,.05,.15,-.12,.08,.2,-.05,.1,-.15,.02,
    .12,-.08,.15,.05,.45,-.1,.08,.2,-.3,.05,
    .05,-.1,.18,0,-.35,.1,.08,-.05,.22,.02,
    -.12,.15,.05,-.08,.12,.28,-.02,.1,-.15,.08,
    .18,-.05,.12,0,.1,-.1,.2,.05,-.08,.15,
    .02,.1,-.12,.08,.22,-.05,.12,0,.15,-.2,
    -.3,0,.1,-.15,.05,.2,-.05,.12,0,.3,-.1,.08,
    -.3,-.6,-.2,-1.03,-.45,-.25,-.7,-.35,-.5,-.3,
    -.55,-.4,-.2,-.65,-.35,-.45,-.6,-.3,-.5,-.25,
    -.4,-.7,-.35,-.55,-.3,-.45,-.2,-.6,-.4,-.75,
    -.5,-.3,-.45,-.65,-.35,-.2,-.55,-1.0,-.4,-.3,
    -.6,-.45,-.25,-.5,-.7,-.35,-.4,-.55,-.3,-.45,
    -.2,-.6,.17,-.35,-.5,-.75,-.4,-.3,-.85,-.45,
    -.55,-.25,-.4,-.6,-.35,-.8,-.5,-.3,-.95,-.45,
    -.2,-.55,-.4,-.65,-.3,-.5,-.85,-.35,-.45,-.25,
    -.6,-1.05,-.4,-.3,-.55,.05,-.45,-.7,-.35,-.5,
    -.4,-.25,-.5,-.35,-.6,-.3,-.45,-.2,-.55,-.4,
    -.3,-.65,-.45,-.25,-.5,-.35,-.6,-.4,-.3,-.55,
    -.45,-.2,-.5,-.35,-.65,-.4,-.3,-.5,-.25,-.45,
    -.6,-.35,-.4,-.55,-.3,-.45,-.2,-.5,-.4,-.6,
    -.45,-.3,-.55,.1,-.25,-.4,-.15,-.5,-.05,.05,
    .05,-.3,-.15,.2,-.45,-.25,-.5,-.1,-.35,-.6,
    -.3,-.75,-.4,-.2,-.55,-.35,-.45,-.65,-.3,-.5,
    -.25,-.4,-.7,-.35,-.55,-.2,-.45,-.8,-.3,-.5,
    -.4,-.6,-.25,-.45,-.35,-.55,-.9,-.3,-.45,-.85,
    -.4,-.2,-.55,-.35,-.5,-.3,-.65,-.45,-.25,-.8,
    -.4,-.5,-.95,-.3,-.6,-.45,-.35,-.05,-.2,-.4,
    -.35,-.5,-.25,-.45,-.6,-.3,-.4,-.55,-.2,-.45,
    -.35,-.6,-.3,-.5,-.4,-.55,-.45,-.3,-.5,-.35,
    -.4,-.25,-.55,-.45,-.3,-.2,-.4,-.35,-.5,-.3,
    0,-.15,.05,-.2,.1,-.1,.15,-.05,0,-.25,
    .1,-.15,.2,-.05,-.3,.05,-.7,-.5,-.4,-.2,
    .08,-.1,.05,-.15,.02,-.08,.1,-.2,0,.12,
    -.05,.15,-.1,.43,.05,-.12,.1,0,-.15,.2,
    -.05,.12,.25,-.1,.3,.05,-.2,.15,.48,0,
    .2,-.15,.1,.35,-.05,.25,.08,-.25,.15,0,
    .3,-.1,.52,.12,.4,-.05,.2,.35,.05,-.2,
    .15,.28,-.1,.45,.05,.22,-.15,.1,.3,0,
    -.05,.25,-.2,.12,.08,-.1,.2,-.6,.15,.3,
    -.12,.2,.05,.38,-.08,.18,.1,.28,.02,.25,
]
p5_lrr_x2 = [
    16.005,16.035,16.065,16.095,16.125,16.155,16.185,16.215,16.245,16.275,
    16.305,16.335,16.365,16.395,16.425,16.455,16.485,16.515,16.545,16.575,
    16.605,16.635,16.665,16.695,16.725,16.755,16.785,16.815,16.845,16.875,
    17.29,17.325,17.35,17.38,17.41,17.44,17.47,17.5,17.53,17.56,
    17.59,17.62,17.65,17.68,17.71,17.74,17.77,17.8,17.83,17.86,
    17.89,17.92,17.95,17.98,18.01,18.04,18.07,18.1,18.13,18.16,
    18.19,18.22,18.25,18.28,18.31,18.34,18.37,18.4,18.43,18.46,
    19.015,19.045,19.075,19.095,19.125,19.155,19.185,19.215,19.245,19.275,
    19.305,19.335,19.365,19.395,19.425,19.455,19.485,19.515,19.535,19.555,
    19.575,19.595,19.615,19.635,19.655,19.675,19.695,19.715,19.735,19.775,
]
p5_lrr_y2 = [
    .1,-.05,.12,-.1,.05,.2,-.08,.15,0,-.12,
    .08,.18,-.05,.1,-.15,.05,.22,-.08,.12,.02,
    -.1,.15,.05,-.05,.2,.08,-.12,.1,0,.15,
    -.5,-.35,-.6,-.25,-.45,-.7,-.3,-.55,-.4,-.2,
    -.65,-.35,-.5,-.8,-.3,-.45,-.25,-.6,-.4,-.7,
    -.35,-.5,-.25,-.6,-.45,-.3,-.55,-.4,-.7,-.2,
    -.5,-.35,-.6,-.45,-.3,-.55,-.4,-.65,-.25,-.5,
    -.25,-.5,-.35,-.6,-.3,-.45,-.2,-.55,-.4,-.65,
    -.3,-.5,-.35,-.6,-.45,-.25,-.5,-.4,-.55,-.3,
    -.45,-.6,-.35,-.5,-.4,-.7,-.3,-.55,-.45,-.6,
]
p5_baf_top_x = [
    16.0,16.04,16.08,16.12,16.16,16.2,16.24,16.28,16.32,16.36,
    16.4,16.44,16.48,16.52,16.56,16.6,16.64,16.68,16.72,16.76,
    16.8,16.84,16.88,16.92,16.96,17.0,17.04,17.08,17.12,
    17.28,17.32,17.36,17.4,17.44,17.48,17.52,17.56,17.6,17.64,
    17.68,17.72,17.76,17.8,17.84,17.88,17.92,17.96,18.0,18.04,
    18.08,18.12,18.16,18.2,18.24,18.28,18.32,18.36,18.4,18.44,
    18.48,18.52,18.56,18.6,18.64,18.68,18.72,18.8,
    18.98,19.02,19.06,19.1,19.14,19.18,19.22,19.26,19.3,19.34,
    19.38,19.42,19.46,19.5,19.54,19.6,19.64,19.68,19.72,19.76,
    19.8,19.84,19.88,19.92,19.96,20.0,20.06,20.14,20.18,20.22,
    20.26,20.3,20.34,20.38,20.46,20.5,20.54,20.58,20.62,20.66,
    20.7,20.74,20.78,20.82,20.86,20.9,20.94,20.98,21.02,21.06,
]
p5_baf_top_y = [
    .99,.98,1,.99,.98,.99,1,.98,.99,.99,
    .98,1,.99,.98,.99,1,.99,.98,.99,.99,
    1,.98,.99,.99,.98,.99,.98,.97,.96,
    .99,.98,1,.99,.99,.98,.99,1,.98,.99,
    .99,.98,1,.99,.97,.99,.98,.99,1,.99,
    .98,.99,.99,1,.98,.99,.99,.98,1,.99,
    .98,.99,1,.99,.98,.99,.99,.99,
    .99,1,.99,.98,.99,.99,1,.98,.99,.99,
    .98,.99,1,.99,.98,.99,.99,.98,1,.99,
    .99,.98,.99,.99,1,.98,.99,.99,.98,.99,
    1,.99,.98,.99,.99,1,.98,.99,.99,.98,
    .99,1,.99,.97,.99,.98,.99,1,.99,.99,
]
p5_baf_bot_x = [
    16.02,16.06,16.1,16.14,16.18,16.22,16.26,16.3,16.34,16.38,
    16.42,16.46,16.5,16.54,16.58,16.62,16.66,16.7,16.74,16.78,
    16.82,16.86,16.9,16.94,16.98,17.02,
    17.3,17.34,17.38,17.42,17.46,17.5,17.54,17.58,17.62,17.66,
    17.7,17.74,17.78,17.82,17.86,17.9,17.94,17.98,18.02,18.06,
    18.1,18.14,18.18,18.22,18.26,18.3,18.34,18.38,18.42,18.46,
    18.5,18.54,18.58,18.62,18.66,18.7,18.74,18.84,
    18.98,19.02,19.06,19.1,19.14,19.18,19.22,19.26,19.3,19.34,
    19.38,19.42,19.46,19.5,19.54,19.58,19.62,19.66,19.7,19.74,
    19.78,19.82,19.86,19.92,19.96,20.02,20.14,20.18,20.22,20.34,
    20.38,20.42,20.62,20.66,20.7,20.74,20.78,20.82,20.86,20.9,
    20.94,20.98,21.02,21.06,
]
p5_baf_bot_y = [
    0,.01,0,.01,0,0,.01,0,0,.01,
    0,.01,0,0,.01,0,0,.01,0,0,
    .01,0,0,.01,0,.01,
    0,.01,0,0,.01,0,0,.01,0,0,
    .01,0,0,.01,0,0,.01,0,0,.01,
    0,0,.01,0,0,.01,0,0,.01,0,
    0,.01,0,0,.01,0,0,.01,
    .01,0,0,.01,0,0,.01,0,0,.01,
    0,0,.01,0,0,.01,0,0,.01,0,
    0,.01,0,0,.01,0,.01,0,0,.01,
    0,0,.01,0,0,.01,0,0,.01,0,
    0,.01,0,.01,
]
p5_baf_mid = [
    (16.02,.48),(16.04,.52),(16.05,.46),(16.07,.5),(16.09,.54),(16.1,.47),(16.12,.5),(16.14,.45),(16.16,.52),
    (16.18,.49),(16.2,.47),(16.22,.53),(16.24,.5),(16.26,.46),(16.28,.51),(16.3,.48),(16.32,.55),(16.34,.5),
    (16.36,.47),(16.38,.52),(16.4,.45),(16.42,.5),(16.03,.44),(16.11,.53),(16.19,.45),(16.27,.55),(16.35,.44),
    (16.6,.5),(16.62,.53),(16.64,.47),(16.66,.51),(16.68,.55),(16.7,.48),(16.72,.52),(16.74,.46),(16.76,.5),
    (16.78,.54),(16.8,.47),(16.82,.51),(16.84,.49),(16.86,.53),(16.88,.39),(16.9,.5),(16.92,.55),(16.94,.47),
    (16.96,.52),(16.98,.5),(16.63,.45),(16.71,.55),(16.79,.44),(16.87,.56),(16.95,.45),
    (16.5,.08),(17.03,.77),(17.2,.33),(17.3,.15),(17.83,.07),(18.59,.95),(18.71,.52),(18.72,.62),(18.79,.53),
    (19.02,.92),(19.05,.87),(19.03,.67),(19.18,.6),(19.34,.87),(19.38,.4),(19.3,.09),(19.86,.12),(19.87,.83),
    (20.08,.57),(20.1,.62),(20.12,.52),(20.17,.79),(20.26,.52),(20.33,.62),(20.41,.62),(20.47,.57),(20.6,.13),
    (20.83,.12),
    (20.44,.5),(20.46,.47),(20.48,.53),(20.5,.45),(20.52,.5),(20.55,.48),(20.58,.52),(20.62,.5),(20.64,.46),
    (20.66,.53),(20.68,.49),(20.7,.55),(20.72,.47),(20.74,.52),(20.76,.5),(20.78,.45),(20.8,.53),(20.82,.48),
    (20.84,.51),(20.86,.56),(20.88,.47),(20.9,.52),(20.92,.5),(20.95,.55),(20.98,.48),(21.0,.52),(21.02,.5),
    (21.04,.54),(21.06,.49),(21.07,.53),(20.56,.55),(20.74,.44),
]
p5_seg_thick_x = [16.0, 17.0, None, 17.27, 18.65, None, 18.95, 19.8, None, 20.6, 21.08]
p5_seg_thick_y = [0, 0, None, -0.38, -0.38, None, -0.38, -0.38, None, -0.01, -0.01]
p5_seg_thin_x = [17.0,17.05,17.1,17.15,17.2,17.25,17.27,18.65,18.7,18.75,18.8,18.85,18.9,18.95,
                 19.8,19.82,19.9,20.0,20.1,20.2,20.3,20.4,20.5,20.6]
p5_seg_thin_y = [0,-0.08,-0.08,-0.08,-0.1,-0.1,-0.38,-0.38,-0.37,-0.37,-0.36,-0.37,-0.37,-0.38,
                 -0.38,-0.05,-0.04,-0.03,-0.03,-0.02,-0.02,-0.02,-0.01,-0.01]
p5_bounds = [17.265, 19.80]
p5_ticks = [16, 17, 18, 19, 20, 21]
p5_ticktext = ['16', '17', '18', '19', '20', '21']

lrr_tickvals = [-1.0, -0.5, 0.0, 0.5, 1.0]
lrr_ticktext = ['\u22121.0', '', '0.0', '', '1.0']
baf_tickvals = [0.0, 0.2, 0.4, 0.6, 0.8, 1.0]
baf_ticktext = ['0.0', '', '0.4', '', '0.8', '']
baf_guides = [1 / 3, 2 / 3]

# ---------- Pedigrees (pixel layout) ----------
ped_lines = [
    (264,60,350.5,60),(309,60,309,132),(222,132,395,132),(222,132,222,158),(309,132,309,158),(395,132,395,158),
    (274.5,330.7,358,330.7),(317.5,330.7,317.5,417),(258,417,375.5,417),(258,417,258,450),(375.5,417,375.5,450),
    (267,621,352,621),(310,621,310,710),(250,710,366.5,710),(250,710,250,736),(366.5,710,366.5,736),
    (262.5,901,345.6,901),(305,901,305,988),(260,988,395,988),(260,988,215,1020.7),(260,988,305,1020.7),(395,988,395,1020.7),
    (128.5,1165,196,1165),(163,1165,163,1227),(90,1227,235,1227),(90,1227,90,1248),(163,1227,163,1248),(235,1227,235,1248),
    (398,1163,456,1163),(428.6,1163,428.6,1226),(387,1226,470,1226),(387,1226,387,1248),(470,1226,470,1248),
    (129.5,1354,188.5,1354),(159,1354,159,1440),
    (388,1354,467.5,1354),(428.6,1354,428.6,1417),(354,1417,502,1417),(354,1417,354,1440),(428.6,1417,428.6,1440),(502,1417,502,1440),
]
ped_squares = [  # cx, cy, half-size, filled
    (251,60,13,False),(258,330.5,16.5,False),(253.5,621,13.5,False),(246,900.5,16.5,True),
    (116,1166,12.5,False),(386,1163,12,False),(117.5,1353.5,12,False),(375.5,1353.5,12.5,False),
]
ped_circles = [  # cx, cy, rx, ry, filled
    (366,60,15.5,15,False),(376,331,18,16,False),(367,621,15,15,False),(363.6,900,18,18,False),
    (208,1166,12,11.5,False),(469,1165,13,12,False),(201,1354,12.5,12.5,False),(480.5,1354.5,13,12.5,False),
]
ped_diamonds = [  # cx, cy, half-size, filled
    (222,177.5,19.5,True),(309,177.5,19.5,True),(395,177.5,19.5,True),
    (258,473.5,23.5,True),(375.5,473.5,23.5,True),
    (250,755,19,True),(366.5,755,19,True),
    (215,1044,23.5,True),(305,1044,23.5,True),(395,1044,23.5,True),
    (90,1264.5,16.5,True),(163,1264.5,16.5,False),(235,1264.5,16.5,True),
    (387,1264.5,16.5,True),(470,1264.5,16.5,True),
    (159,1456.5,17,True),
    (354,1456.5,17,True),(428.6,1456.5,17,True),(502,1456.5,17,True),
]
ped_slashes = [(353.5,352,398,309),(224.5,921,268,880),(103,1178,131,1152)]
ped_labels = [
    ('JH69-1',251,90),('JH69-2',366,90),('1Q DUP',366,114),('JH69-3',218,216),('1Q DUP',218,239),
    ('JH69-4',307,216),('1Q DUP',307,239),('JH69-5',399,216),('1Q DUP',399,239),
    ('AU49-2',258,368),('AU49-1',374,368),('AU49-3',258,515),('NRXN1 DEL',258,541),('AU49-4',375,515),
    ('AU4-3',253,651),('15Q DUP',253,674),('AU4-2',366.5,651),('AU4-1',250,790),('15Q DUP',251,813),
    ('AU4-4',365,790),('15Q DUP',366,813),
    ('PA16-1',245,936),('PA16-2',362.5,936),('16P DUP',362.5,959),('PA16-3',214,1085),('PA16-5',304,1085),
    ('16P DUP',304,1108),('PA16-4',395,1085),('16P DUP',395,1108),
    ('JH10-1',116,1192),('JH10-3',207,1192),('JH10-2',89,1295),('22Q DEL',89,1318),('JH10-4',162,1295),('JH10-5',236,1295),
    ('NW33-3',386,1190),('NW33-1',474,1190),('NW33-2',387,1295),('NW33-4',470.6,1295),('22q DEL',470.6,1320),
    ('VC163-2',117.5,1379),('VC163-3',201,1379),('VC163-1',158,1487),('22Q DEL',158,1511),
    ('WA79-1',375,1379),('WA79-2',481,1379),('WA79-3',352,1487),('WA79-4',426.5,1487),('WA79-5',504,1487),('22Q DEL',504,1511),
]

# ======================= FIGURE =======================
GREY = '#dcdddf'
FR = '#a5a5a5'
INK = '#231f20'
COND = "DejaVu Sans Condensed, Liberation Sans Narrow, Arial Narrow, Roboto Condensed, sans-serif"
TICKFONT = dict(family=COND, size=15, color='#3a3a3a')
PEDFONT = dict(family=COND, size=17, color=INK)
TITLEFONT = dict(family="Open Sans, Noto Sans, sans-serif", size=16, color='#595959')


def X(px):
    return px / W


def Y(py):
    return 1 - py / H


def axn(letter, k):
    return f'{letter}axis' + ('' if k == 1 else str(k))


def axr(letter, k):
    return letter + ('' if k == 1 else str(k))


def unzip(pairs):
    return [p[0] for p in pairs], [p[1] for p in pairs]


panels = [
    dict(px=(682, 1246, 27, 134, 140, 248), xr=(142.45, 149.02), lr=(-1.082, 1.102), br=(-0.04, 1.04),
         tv=p1_ticks, tt=p1_ticktext, bounds=p1_bounds, title=(597, 81, 204),
         lrr=[(p1_lrr_x, p1_lrr_y)],
         baf=[(p1_baf_top_x, p1_baf_top_y), (p1_baf_bot_x, p1_baf_bot_y), unzip(p1_baf_mid)],
         thick=(p1_seg_thick_x, p1_seg_thick_y), thin=(p1_seg_thin_x, p1_seg_thin_y)),
    dict(px=(682, 1251, 307, 417, 423, 531), xr=(50.52, 51.009), lr=(-1.1, 1.1), br=(-0.04, 1.04),
         tv=p2_ticks, tt=p2_ticktext, bounds=p2_bounds, title=(597, 362, 487),
         lrr=[unzip(p2_lrr)], baf=[unzip(p2_baf)], thick=None, thin=(p2_seg_x, p2_seg_y)),
    dict(px=(682, 1249, 593, 701, 707, 817), xr=(27.79, 31.23), lr=(-1.08, 1.06), br=(-0.05, 1.05),
         tv=p3_ticks, tt=p3_ticktext, bounds=p3_bounds, title=(597, 647, 771),
         lrr=[(p3_lrr_x, p3_lrr_y), (p3_lrr_x2, p3_lrr_y2)],
         baf=[(p3_baf_top_x, p3_baf_top_y), (p3_baf_bot_x, p3_baf_bot_y), unzip(p3_baf_mid)],
         thick=(p3_seg_x, p3_seg_y), thin=None),
    dict(px=(682, 1244, 877, 985, 992, 1099), xr=(29.174, 30.411), lr=(-1.08, 1.08), br=(-0.03, 1.03),
         tv=p4_ticks, tt=p4_ticktext, bounds=p4_bounds, title=(597, 931, 1054),
         lrr=[unzip(p4_lrr)], baf=[unzip(p4_baf)], thick=None, thin=(p4_seg_x, p4_seg_y)),
    dict(px=(682, 1248, 1203, 1312, 1318, 1426), xr=(15.79, 21.28), lr=(-1.08, 1.08), br=(-0.03, 1.04),
         tv=p5_ticks, tt=p5_ticktext, bounds=p5_bounds, title=(593, 1252, 1380),
         lrr=[(p5_lrr_x, p5_lrr_y), (p5_lrr_x2, p5_lrr_y2)],
         baf=[(p5_baf_top_x, p5_baf_top_y), (p5_baf_bot_x, p5_baf_bot_y), unzip(p5_baf_mid)],
         thick=(p5_seg_thick_x, p5_seg_thick_y), thin=(p5_seg_thin_x, p5_seg_thin_y)),
]

fig = go.Figure()
shapes = []
annotations = []
lay = dict(width=W, height=H, autosize=False, margin=dict(l=0, r=0, t=0, b=0, pad=0), paper_bgcolor='white',
           plot_bgcolor='rgba(0,0,0,0)', showlegend=False, hovermode=False)

# background
shapes.append(dict(type='rect', xref='paper', yref='paper', x0=X(5), x1=1, y0=0, y1=Y(5),
                   fillcolor=GREY, line_width=0, layer='below'))
for ys in [286, 567, 857.5, 1137.5]:
    shapes.append(dict(type='rect', xref='paper', yref='paper', x0=X(5), x1=1, y0=Y(ys + 1.4), y1=Y(ys - 1.4),
                       fillcolor='white', line_width=0, layer='below'))
shapes.append(dict(type='rect', xref='paper', yref='paper', x0=X(629), x1=X(1283), y0=Y(1519), y1=Y(13),
                   fillcolor='white', line_width=0, layer='below'))


def add_pts(xs, ys, k_x, k_y):
    fig.add_trace(go.Scatter(x=xs, y=ys, mode='markers', xaxis=k_x, yaxis=k_y,
                             marker=dict(size=5.5, color='#111111', line=dict(width=0)),
                             hoverinfo='skip', cliponaxis=True))


for i, P in enumerate(panels):
    ka, kb = 2 * i + 1, 2 * i + 2
    x0, x1, lt, lb, bt, bb = P['px']
    common = dict(showline=True, mirror=True, linecolor=FR, linewidth=1.3, showgrid=False, zeroline=False,
                  fixedrange=True)
    lay[axn('x', ka)] = dict(domain=[X(x0), X(x1)], range=list(P['xr']), anchor=axr('y', ka),
                             showticklabels=False, ticks='', **common)
    lay[axn('y', ka)] = dict(domain=[Y(lb), Y(lt)], range=list(P['lr']), anchor=axr('x', ka),
                             tickmode='array', tickvals=lrr_tickvals, ticktext=lrr_ticktext, ticks='outside',
                             ticklen=5, tickwidth=1, tickcolor=FR, tickfont=TICKFONT, **common)
    lay[axn('x', kb)] = dict(domain=[X(x0), X(x1)], range=list(P['xr']), anchor=axr('y', kb),
                             tickmode='array', tickvals=P['tv'], ticktext=P['tt'], ticks='outside',
                             ticklen=6, tickwidth=1, tickcolor=FR, tickfont=TICKFONT, **common)
    lay[axn('y', kb)] = dict(domain=[Y(bb), Y(bt)], range=list(P['br']), anchor=axr('x', kb),
                             tickmode='array', tickvals=baf_tickvals, ticktext=baf_ticktext, ticks='outside',
                             ticklen=5, tickwidth=1, tickcolor=FR, tickfont=TICKFONT, **common)
    shapes.append(dict(type='line', xref=axr('x', ka) + ' domain', x0=0, x1=1, yref=axr('y', ka), y0=0, y1=0,
                       line=dict(color='#dcdcdc', width=1.3), layer='below'))
    for g in baf_guides:
        shapes.append(dict(type='line', xref=axr('x', kb) + ' domain', x0=0, x1=1, yref=axr('y', kb), y0=g, y1=g,
                           line=dict(color='#dcdcdc', width=1.3), layer='below'))
    for b in P['bounds']:
        shapes.append(dict(type='line', xref=axr('x', kb), x0=b, x1=b, yref='paper', y0=Y(bb), y1=Y(lt),
                           line=dict(color='#8b8bba', width=1), layer='below'))
    for xs, ys in P['lrr']:
        add_pts(xs, ys, axr('x', ka), axr('y', ka))
    for xs, ys in P['baf']:
        add_pts(xs, ys, axr('x', kb), axr('y', kb))
    if P['thin'] is not None:
        sx, sy = P['thin']
        fig.add_trace(go.Scatter(x=sx, y=sy, mode='lines+markers', xaxis=axr('x', ka), yaxis=axr('y', ka),
                                 line=dict(color='#f29a92', width=1.2),
                                 marker=dict(symbol='circle-open', size=5, color='#ee6f62', line=dict(width=1)),
                                 hoverinfo='skip', connectgaps=False))
    if P['thick'] is not None:
        sx, sy = P['thick']
        fig.add_trace(go.Scatter(x=sx, y=sy, mode='lines', xaxis=axr('x', ka), yaxis=axr('y', ka),
                                 line=dict(color='#e42a20', width=4.5), hoverinfo='skip', connectgaps=False))
    tx, tyl, tyb = P['title']
    annotations.append(dict(xref='paper', yref='paper', x=X(tx), y=Y(tyl), text='Log R<br>Intensity',
                            textangle=-90, showarrow=False, font=TITLEFONT, xanchor='center', yanchor='middle'))
    annotations.append(dict(xref='paper', yref='paper', x=X(tx), y=Y(tyb), text='B Allele<br>Frequency',
                            textangle=-90, showarrow=False, font=TITLEFONT, xanchor='center', yanchor='middle'))

# pedigrees
PL = dict(color=INK, width=2)
for (a, b, c, d) in ped_lines:
    shapes.append(dict(type='line', xref='paper', yref='paper', x0=X(a), y0=Y(b), x1=X(c), y1=Y(d), line=PL))
for (cx, cy, h, f) in ped_squares:
    shapes.append(dict(type='rect', xref='paper', yref='paper', x0=X(cx - h), x1=X(cx + h), y0=Y(cy + h),
                       y1=Y(cy - h), line=PL, fillcolor=INK if f else 'white'))
for (cx, cy, rx, ry, f) in ped_circles:
    shapes.append(dict(type='circle', xref='paper', yref='paper', x0=X(cx - rx), x1=X(cx + rx), y0=Y(cy + ry),
                       y1=Y(cy - ry), line=PL, fillcolor=INK if f else 'white'))
for (cx, cy, h, f) in ped_diamonds:
    path = (f"M {X(cx)},{Y(cy - h)} L {X(cx + h)},{Y(cy)} L {X(cx)},{Y(cy + h)} "
            f"L {X(cx - h)},{Y(cy)} Z")
    shapes.append(dict(type='path', xref='paper', yref='paper', path=path, line=PL,
                       fillcolor=INK if f else 'white'))
for (a, b, c, d) in ped_slashes:
    shapes.append(dict(type='line', xref='paper', yref='paper', x0=X(a), y0=Y(b), x1=X(c), y1=Y(d), line=PL))
for (t, cx, cy) in ped_labels:
    annotations.append(dict(xref='paper', yref='paper', x=X(cx), y=Y(cy), text=t, showarrow=False,
                            font=PEDFONT, xanchor='center', yanchor='middle'))

lay['shapes'] = shapes
lay['annotations'] = annotations
fig.update_layout(lay)
fig.write_html("out.html", config={'displayModeBar': False},
               post_script="document.body.style.margin='0';document.body.style.padding='0';"
                           "document.documentElement.style.overflow='hidden';")
